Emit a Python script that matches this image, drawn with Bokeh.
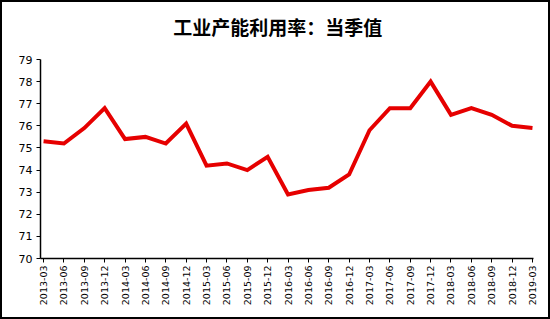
from bokeh.plotting import figure
from bokeh.models import Range1d, FixedTicker, Label
from bokeh.embed import file_html
from bokeh.resources import INLINE

quarters = ["2013-03", "2013-06", "2013-09", "2013-12",
            "2014-03", "2014-06", "2014-09", "2014-12",
            "2015-03", "2015-06", "2015-09", "2015-12",
            "2016-03", "2016-06", "2016-09", "2016-12",
            "2017-03", "2017-06", "2017-09", "2017-12",
            "2018-03", "2018-06", "2018-09", "2018-12",
            "2019-03"]
utilization = [75.3, 75.2, 75.9, 76.8,
               75.4, 75.5, 75.2, 76.1,
               74.2, 74.3, 74.0, 74.6,
               72.9, 73.1, 73.2, 73.8,
               75.8, 76.8, 76.8, 78.0,
               76.5, 76.8, 76.5, 76.0,
               75.9]
y_ticks = [70, 71, 72, 73, 74, 75, 76, 77, 78, 79]
title_text = "工业产能利用率：当季值"

xs = list(range(len(quarters)))

# y range extended upward so the title sits inside the frame; axis bounded to 70-79
p = figure(width=550, height=319, output_backend="svg", toolbar_location=None,
           x_range=Range1d(-0.15, 24.05), y_range=Range1d(70, 81.353),
           min_border_left=38, min_border_right=19, min_border_top=5,
           min_border_bottom=63)
p.styles = {"border": "2px solid #000000", "box-sizing": "border-box"}

title = Label(x=11.5, y=80.5, text=title_text, text_align="center",
              text_baseline="middle", text_font="Noto Sans CJK SC",
              text_font_size="19px", text_font_style="bold",
              text_color="#000000")
p.add_layout(title)

p.line(xs, utilization, line_color="#E60000", line_width=4, line_join="miter")

p.xgrid.visible = False
p.ygrid.visible = False
p.outline_line_color = None
p.background_fill_color = "#FFFFFF"
p.border_fill_color = "#FFFFFF"

p.xaxis.ticker = FixedTicker(ticks=xs)
p.xaxis.major_label_overrides = {i: q for i, q in enumerate(quarters)}
p.xaxis.major_label_orientation = 1.5708
p.xaxis.minor_tick_line_color = None
p.xaxis.major_tick_in = 0
p.xaxis.major_tick_out = 4
p.xaxis.axis_line_color = "#000000"
p.xaxis.axis_line_width = 1.5
p.xaxis.major_label_text_font = "DejaVu Sans"
p.xaxis.major_label_text_font_size = "9.5px"
p.xaxis.major_label_text_color = "#000000"
p.xaxis.major_label_standoff = 3

p.yaxis.ticker = FixedTicker(ticks=y_ticks)
p.yaxis.bounds = (70, 79)
p.yaxis.minor_tick_line_color = None
p.yaxis.major_tick_in = 0
p.yaxis.major_tick_out = 4
p.yaxis.axis_line_color = "#000000"
p.yaxis.axis_line_width = 1.5
p.yaxis.major_label_text_font = "DejaVu Sans"
p.yaxis.major_label_text_font_size = "11px"
p.yaxis.major_label_text_color = "#000000"
p.yaxis.major_label_standoff = 4

open("out.html", "w").write(file_html(p, INLINE))
